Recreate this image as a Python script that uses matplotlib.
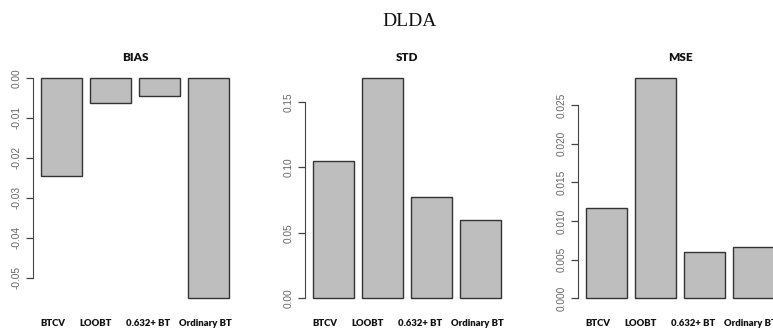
import matplotlib.pyplot as plt

methods = ['BTCV', 'LOOBT', '0.632+ BT', 'Ordinary BT']
bias = [-0.0246, -0.0064, -0.0045, -0.0551]
std = [0.1052, 0.1686, 0.0777, 0.0596]
mse = [0.01164, 0.02853, 0.00603, 0.00660]

panels = [
    ('BIAS', bias, [-0.05, -0.04, -0.03, -0.02, -0.01, 0.00], '%.2f'),
    ('STD', std, [0.00, 0.05, 0.10, 0.15], '%.2f'),
    ('MSE', mse, [0.000, 0.005, 0.010, 0.015, 0.020, 0.025], '%.3f'),
]

# layout (pixels of a 773x329 figure)
W, H = 773.0, 329.0
lefts = [33, 305, 578]
ax_w, ax_bot, ax_top = 204, 307, 69
bar_x = [0.7, 1.9, 3.1, 4.3]
label_x = [0.50, 1.55, 2.81, 4.21]

fig = plt.figure(figsize=(7.73, 3.29), dpi=100)
fig.text(410 / W, 1 - 22 / H, 'DLDA', ha='center', va='center',
         family='Liberation Serif', fontsize=14, color='#111111')

for left, (title, vals, ticks, fmt) in zip(lefts, panels):
    ax = fig.add_axes([left / W, (H - ax_bot) / H, ax_w / W, (ax_bot - ax_top) / H])
    ax.bar(bar_x, vals, width=1.0, color='#bebebe', edgecolor='#333333', linewidth=1.0)
    lo, hi = min(min(vals), 0), max(max(vals), 0)
    ext = 0.04 * (hi - lo)
    ax.set_ylim(lo - ext, hi + ext)
    ax.set_xlim(0.016, 4.984)

    for s in ['top', 'right', 'bottom']:
        ax.spines[s].set_visible(False)
    ax.spines['left'].set_bounds(ticks[0], ticks[-1])
    ax.spines['left'].set_color('#444444')
    ax.set_yticks(ticks)
    ax.set_yticklabels([fmt % t for t in ticks], rotation=90, va='center',
                       family='Liberation Sans', fontsize=7.3, color='#666666')
    ax.tick_params(axis='y', length=5, width=0.9, color='#444444', pad=3)
    ax.set_xticks([])
    ax.patch.set_visible(False)

    ax.set_title(title, family='Lato', fontweight='heavy', fontsize=8.5, pad=6, color='#111111')
    for x, name in zip(label_x, methods):
        ax.text(x, -17 / (ax_bot - ax_top), name, transform=ax.get_xaxis_transform(),
                ha='center', va='center', family='Lato', fontweight='heavy',
                fontsize=6.8, color='#111111')

fig.savefig('out.png', dpi=100)
